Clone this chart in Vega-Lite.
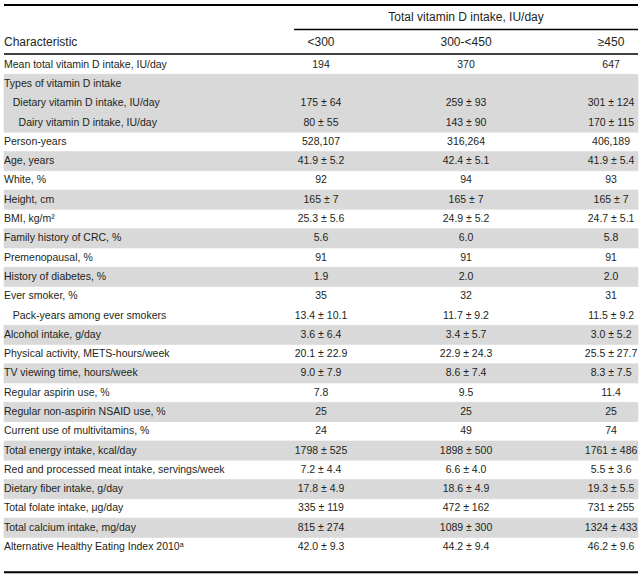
{
  "$schema": "https://vega.github.io/schema/vega-lite/v6.json",
  "background": "white",
  "padding": {"left": 3, "right": 4, "top": 0, "bottom": 0},
  "spacing": 0,
  "config": {
    "view": {"stroke": null},
    "text": {"font": "Liberation Sans", "fill": "#231f20", "baseline": "middle"}
  },
  "datasets": {
    "header": [
      {"slot": "group", "col": "300-<450", "text": "Total vitamin D intake, IU/day"},
      {"slot": "cols", "col": "Characteristic", "text": "Characteristic"},
      {"slot": "cols", "col": "<300", "text": "<300"},
      {"slot": "cols", "col": "300-<450", "text": "300-<450"},
      {"slot": "cols", "col": "≥450", "text": "≥450"}
    ],
    "body": [
      {"line": 0, "group": 1, "col": "Characteristic", "text": "Mean total vitamin D intake, IU/day"},
      {"line": 0, "group": 1, "col": "<300", "text": "194"},
      {"line": 0, "group": 1, "col": "300-<450", "text": "370"},
      {"line": 0, "group": 1, "col": "≥450", "text": "647"},
      {"line": 1, "group": 2, "col": "Characteristic", "text": "Types of vitamin D intake"},
      {"line": 2, "group": 2, "col": "Characteristic", "text": "\u200b\u00a0\u00a0\u00a0Dietary vitamin D intake, IU/day"},
      {"line": 2, "group": 2, "col": "<300", "text": "175 ± 64"},
      {"line": 2, "group": 2, "col": "300-<450", "text": "259 ± 93"},
      {"line": 2, "group": 2, "col": "≥450", "text": "301 ± 124"},
      {"line": 3, "group": 2, "col": "Characteristic", "text": "\u200b\u00a0\u00a0\u00a0\u00a0\u00a0Dairy vitamin D intake, IU/day"},
      {"line": 3, "group": 2, "col": "<300", "text": "80 ± 55"},
      {"line": 3, "group": 2, "col": "300-<450", "text": "143 ± 90"},
      {"line": 3, "group": 2, "col": "≥450", "text": "170 ± 115"},
      {"line": 4, "group": 3, "col": "Characteristic", "text": "Person-years"},
      {"line": 4, "group": 3, "col": "<300", "text": "528,107"},
      {"line": 4, "group": 3, "col": "300-<450", "text": "316,264"},
      {"line": 4, "group": 3, "col": "≥450", "text": "406,189"},
      {"line": 5, "group": 4, "col": "Characteristic", "text": "Age, years"},
      {"line": 5, "group": 4, "col": "<300", "text": "41.9 ± 5.2"},
      {"line": 5, "group": 4, "col": "300-<450", "text": "42.4 ± 5.1"},
      {"line": 5, "group": 4, "col": "≥450", "text": "41.9 ± 5.4"},
      {"line": 6, "group": 5, "col": "Characteristic", "text": "White, %"},
      {"line": 6, "group": 5, "col": "<300", "text": "92"},
      {"line": 6, "group": 5, "col": "300-<450", "text": "94"},
      {"line": 6, "group": 5, "col": "≥450", "text": "93"},
      {"line": 7, "group": 6, "col": "Characteristic", "text": "Height, cm"},
      {"line": 7, "group": 6, "col": "<300", "text": "165 ± 7"},
      {"line": 7, "group": 6, "col": "300-<450", "text": "165 ± 7"},
      {"line": 7, "group": 6, "col": "≥450", "text": "165 ± 7"},
      {"line": 8, "group": 7, "col": "Characteristic", "text": "BMI, kg/m²"},
      {"line": 8, "group": 7, "col": "<300", "text": "25.3 ± 5.6"},
      {"line": 8, "group": 7, "col": "300-<450", "text": "24.9 ± 5.2"},
      {"line": 8, "group": 7, "col": "≥450", "text": "24.7 ± 5.1"},
      {"line": 9, "group": 8, "col": "Characteristic", "text": "Family history of CRC, %"},
      {"line": 9, "group": 8, "col": "<300", "text": "5.6"},
      {"line": 9, "group": 8, "col": "300-<450", "text": "6.0"},
      {"line": 9, "group": 8, "col": "≥450", "text": "5.8"},
      {"line": 10, "group": 9, "col": "Characteristic", "text": "Premenopausal, %"},
      {"line": 10, "group": 9, "col": "<300", "text": "91"},
      {"line": 10, "group": 9, "col": "300-<450", "text": "91"},
      {"line": 10, "group": 9, "col": "≥450", "text": "91"},
      {"line": 11, "group": 10, "col": "Characteristic", "text": "History of diabetes, %"},
      {"line": 11, "group": 10, "col": "<300", "text": "1.9"},
      {"line": 11, "group": 10, "col": "300-<450", "text": "2.0"},
      {"line": 11, "group": 10, "col": "≥450", "text": "2.0"},
      {"line": 12, "group": 11, "col": "Characteristic", "text": "Ever smoker, %"},
      {"line": 12, "group": 11, "col": "<300", "text": "35"},
      {"line": 12, "group": 11, "col": "300-<450", "text": "32"},
      {"line": 12, "group": 11, "col": "≥450", "text": "31"},
      {"line": 13, "group": 11, "col": "Characteristic", "text": "\u200b\u00a0\u00a0\u00a0Pack-years among ever smokers"},
      {"line": 13, "group": 11, "col": "<300", "text": "13.4 ± 10.1"},
      {"line": 13, "group": 11, "col": "300-<450", "text": "11.7 ± 9.2"},
      {"line": 13, "group": 11, "col": "≥450", "text": "11.5 ± 9.2"},
      {"line": 14, "group": 12, "col": "Characteristic", "text": "Alcohol intake, g/day"},
      {"line": 14, "group": 12, "col": "<300", "text": "3.6 ± 6.4"},
      {"line": 14, "group": 12, "col": "300-<450", "text": "3.4 ± 5.7"},
      {"line": 14, "group": 12, "col": "≥450", "text": "3.0 ± 5.2"},
      {"line": 15, "group": 13, "col": "Characteristic", "text": "Physical activity, METS-hours/week"},
      {"line": 15, "group": 13, "col": "<300", "text": "20.1 ± 22.9"},
      {"line": 15, "group": 13, "col": "300-<450", "text": "22.9 ± 24.3"},
      {"line": 15, "group": 13, "col": "≥450", "text": "25.5 ± 27.7"},
      {"line": 16, "group": 14, "col": "Characteristic", "text": "TV viewing time, hours/week"},
      {"line": 16, "group": 14, "col": "<300", "text": "9.0 ± 7.9"},
      {"line": 16, "group": 14, "col": "300-<450", "text": "8.6 ± 7.4"},
      {"line": 16, "group": 14, "col": "≥450", "text": "8.3 ± 7.5"},
      {"line": 17, "group": 15, "col": "Characteristic", "text": "Regular aspirin use, %"},
      {"line": 17, "group": 15, "col": "<300", "text": "7.8"},
      {"line": 17, "group": 15, "col": "300-<450", "text": "9.5"},
      {"line": 17, "group": 15, "col": "≥450", "text": "11.4"},
      {"line": 18, "group": 16, "col": "Characteristic", "text": "Regular non-aspirin NSAID use, %"},
      {"line": 18, "group": 16, "col": "<300", "text": "25"},
      {"line": 18, "group": 16, "col": "300-<450", "text": "25"},
      {"line": 18, "group": 16, "col": "≥450", "text": "25"},
      {"line": 19, "group": 17, "col": "Characteristic", "text": "Current use of multivitamins, %"},
      {"line": 19, "group": 17, "col": "<300", "text": "24"},
      {"line": 19, "group": 17, "col": "300-<450", "text": "49"},
      {"line": 19, "group": 17, "col": "≥450", "text": "74"},
      {"line": 20, "group": 18, "col": "Characteristic", "text": "Total energy intake, kcal/day"},
      {"line": 20, "group": 18, "col": "<300", "text": "1798 ± 525"},
      {"line": 20, "group": 18, "col": "300-<450", "text": "1898 ± 500"},
      {"line": 20, "group": 18, "col": "≥450", "text": "1761 ± 486"},
      {"line": 21, "group": 19, "col": "Characteristic", "text": "Red and processed meat intake, servings/week"},
      {"line": 21, "group": 19, "col": "<300", "text": "7.2 ± 4.4"},
      {"line": 21, "group": 19, "col": "300-<450", "text": "6.6 ± 4.0"},
      {"line": 21, "group": 19, "col": "≥450", "text": "5.5 ± 3.6"},
      {"line": 22, "group": 20, "col": "Characteristic", "text": "Dietary fiber intake, g/day"},
      {"line": 22, "group": 20, "col": "<300", "text": "17.8 ± 4.9"},
      {"line": 22, "group": 20, "col": "300-<450", "text": "18.6 ± 4.9"},
      {"line": 22, "group": 20, "col": "≥450", "text": "19.3 ± 5.5"},
      {"line": 23, "group": 21, "col": "Characteristic", "text": "Total folate intake, μg/day"},
      {"line": 23, "group": 21, "col": "<300", "text": "335 ± 119"},
      {"line": 23, "group": 21, "col": "300-<450", "text": "472 ± 162"},
      {"line": 23, "group": 21, "col": "≥450", "text": "731 ± 255"},
      {"line": 24, "group": 22, "col": "Characteristic", "text": "Total calcium intake, mg/day"},
      {"line": 24, "group": 22, "col": "<300", "text": "815 ± 274"},
      {"line": 24, "group": 22, "col": "300-<450", "text": "1089 ± 300"},
      {"line": 24, "group": 22, "col": "≥450", "text": "1324 ± 433"},
      {"line": 25, "group": 23, "col": "Characteristic", "text": "Alternative Healthy Eating Index 2010ᵃ"},
      {"line": 25, "group": 23, "col": "<300", "text": "42.0 ± 9.3"},
      {"line": 25, "group": 23, "col": "300-<450", "text": "44.2 ± 9.4"},
      {"line": 25, "group": 23, "col": "≥450", "text": "46.2 ± 9.6"}
    ]
  },
  "vconcat": [
    {
      "width": 634,
      "height": 54,
      "data": {"name": "header"},
      "layer": [
        {
          "data": {"values": [{}]},
          "mark": {"type": "rule", "stroke": "#000000", "strokeWidth": 2},
          "encoding": {
            "y": {"datum": "top", "type": "ordinal", "axis": null,
                  "scale": {"type": "point", "domain": ["top", "group", "sub", "cols", "rule"], "padding": 0.204, "align": 1}}
          }
        },
        {
          "data": {"values": [{}]},
          "mark": {"type": "rule", "stroke": "#000000", "strokeWidth": 1.5},
          "encoding": {
            "y": {"datum": "sub", "type": "ordinal", "axis": null,
                  "scale": {"type": "point", "domain": ["top", "group", "sub", "cols", "rule"], "padding": 0.204, "align": 1}},
            "x": {"datum": "<300", "type": "nominal", "bandPosition": 0, "axis": null,
                  "scale": {"type": "band", "domain": ["<300", "300-<450", "≥450"], "paddingInner": 0.6286, "paddingOuter": 1.0786, "align": 1}},
            "x2": {"datum": "≥450", "bandPosition": 1}
          }
        },
        {
          "data": {"values": [{}]},
          "mark": {"type": "rule", "stroke": "#000000", "strokeWidth": 1.5},
          "encoding": {
            "y": {"datum": "rule", "type": "ordinal", "axis": null,
                  "scale": {"type": "point", "domain": ["top", "group", "sub", "cols", "rule"], "padding": 0.204, "align": 1}}
          }
        },
        {
          "transform": [{"filter": "datum.col !== 'Characteristic'"}],
          "mark": {"type": "text", "align": "center", "fontSize": 12},
          "encoding": {
            "x": {"field": "col", "type": "nominal", "axis": null,
                  "scale": {"type": "band", "domain": ["<300", "300-<450", "≥450"], "paddingInner": 0.6286, "paddingOuter": 1.0786, "align": 1}},
            "y": {"field": "slot", "type": "ordinal", "axis": null,
                  "scale": {"type": "point", "domain": ["top", "group", "sub", "cols", "rule"], "padding": 0.204, "align": 1}},
            "text": {"field": "text"}
          }
        },
        {
          "transform": [{"filter": "datum.col === 'Characteristic'"}],
          "mark": {"type": "text", "align": "left", "fontSize": 12},
          "encoding": {
            "x": {"field": "col", "type": "nominal", "axis": null,
                  "scale": {"type": "point", "padding": 0, "align": 0}},
            "y": {"field": "slot", "type": "ordinal", "axis": null,
                  "scale": {"type": "point", "domain": ["top", "group", "sub", "cols", "rule"], "padding": 0.204, "align": 1}},
            "text": {"field": "text"}
          }
        }
      ],
      "resolve": {"scale": {"x": "independent"}}
    },
    {
      "width": 634,
      "height": 521,
      "data": {"name": "body"},
      "layer": [
        {
          "transform": [{"filter": "datum.col === 'Characteristic' && datum.group % 2 === 0"}],
          "mark": {"type": "rect", "fill": "#d9d9d9", "stroke": "#d9d9d9", "strokeWidth": 0.6},
          "encoding": {
            "y": {"field": "line", "type": "ordinal", "axis": null,
                  "scale": {"type": "band", "domain": [0,1,2,3,4,5,6,7,8,9,10,11,12,13,14,15,16,17,18,19,20,21,22,23,24,25,26], "paddingInner": 0, "paddingOuter": 0}}
          }
        },
        {
          "data": {"values": [{}]},
          "mark": {"type": "rule", "stroke": "#000000", "strokeWidth": 2},
          "encoding": {
            "y": {"datum": 26, "type": "ordinal", "bandPosition": 0.8, "axis": null,
                  "scale": {"type": "band", "domain": [0,1,2,3,4,5,6,7,8,9,10,11,12,13,14,15,16,17,18,19,20,21,22,23,24,25,26], "paddingInner": 0, "paddingOuter": 0}}
          }
        },
        {
          "transform": [{"filter": "datum.col !== 'Characteristic'"}],
          "mark": {"type": "text", "align": "center", "fontSize": 10.5},
          "encoding": {
            "x": {"field": "col", "type": "nominal", "axis": null,
                  "scale": {"type": "band", "domain": ["<300", "300-<450", "≥450"], "paddingInner": 0.6286, "paddingOuter": 1.0786, "align": 1}},
            "y": {"field": "line", "type": "ordinal", "axis": null,
                  "scale": {"type": "band", "domain": [0,1,2,3,4,5,6,7,8,9,10,11,12,13,14,15,16,17,18,19,20,21,22,23,24,25,26], "paddingInner": 0, "paddingOuter": 0}},
            "text": {"field": "text"}
          }
        },
        {
          "transform": [{"filter": "datum.col === 'Characteristic'"}],
          "mark": {"type": "text", "align": "left", "fontSize": 10.5},
          "encoding": {
            "x": {"field": "col", "type": "nominal", "axis": null,
                  "scale": {"type": "point", "padding": 0, "align": 0}},
            "y": {"field": "line", "type": "ordinal", "axis": null,
                  "scale": {"type": "band", "domain": [0,1,2,3,4,5,6,7,8,9,10,11,12,13,14,15,16,17,18,19,20,21,22,23,24,25,26], "paddingInner": 0, "paddingOuter": 0}},
            "text": {"field": "text"}
          }
        }
      ],
      "resolve": {"scale": {"x": "independent"}}
    }
  ]
}
